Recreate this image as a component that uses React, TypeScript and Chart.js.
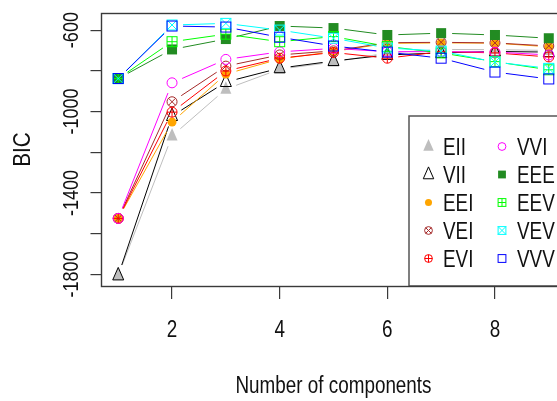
import React, { useEffect, useRef } from 'react';
import { Chart, registerables } from 'chart.js';
Chart.register(...registerables);

// ---- data ----
const components = [1, 2, 3, 4, 5, 6, 7, 8, 9];
const EII = [-1805, -1120, -890, -792, -757, -712, -695, -696, -700];
const VII = [-1805, -1022, -855, -787, -752, -722, -712, -705, -708];
const EEI = [-1525, -1052, -816, -742, -705, -665, -663, -664, -682];
const VEI = [-1525, -952, -777, -722, -702, -662, -660, -663, -678];
const EVI = [-1525, -1003, -801, -738, -710, -738, -706, -712, -732];
const VVI = [-1525, -859, -744, -707, -690, -706, -706, -708, -722];
const EEE = [-838, -695, -644, -580, -590, -624, -615, -624, -640];
const EEV = [-838, -657, -620, -657, -632, -680, -712, -755, -795];
const VEV = [-838, -575, -567, -600, -640, -688, -703, -757, -788];
const VVV = [-838, -580, -585, -635, -678, -708, -738, -806, -840];

const modelNames = ['EII', 'VII', 'EEI', 'VEI', 'EVI', 'VVI', 'EEE', 'EEV', 'VEV', 'VVV'];
const modelValues = [EII, VII, EEI, VEI, EVI, VVI, EEE, EEV, VEV, VVV];
const modelColors = ['#BEBEBE', '#000000', '#FFA500', '#A52A2A', '#FF0000', '#FF00FF', '#228B22', '#00FF00', '#00FFFF', '#0000FF'];
const modelSymbols = ['triFill', 'triOpen', 'circleFill', 'circleX', 'circlePlus', 'circle', 'squareFill', 'squarePlus', 'squareX', 'square'];

const xTickValues = [2, 4, 6, 8];
const xTickLabels = ['2', '4', '6', '8'];
const yTickValues = [-1800, -1600, -1400, -1200, -1000, -800, -600];
const yLabelValues = [-1800, -1400, -1000, -600];
const yLabelTexts = ['-1800', '-1400', '-1000', '-600'];
const xTitle = 'Number of components';
const yTitle = 'BIC';

const FONT = '"Liberation Sans", Arial, sans-serif';
const INK = '#111';
const AXIS = '#3a3a3a';

function drawText(ctx: CanvasRenderingContext2D, s: string, x: number, y: number, size: number, align: CanvasTextAlign, rot = 0, sx = 0.82) {
  ctx.save();
  ctx.translate(x, y);
  if (rot) ctx.rotate(rot);
  ctx.scale(sx, 1);
  ctx.font = `${size}px ${FONT}`;
  ctx.fillStyle = INK;
  ctx.textAlign = align;
  ctx.textBaseline = 'alphabetic';
  ctx.fillText(s, 0, 0);
  ctx.restore();
}

function drawSymbol(ctx: CanvasRenderingContext2D, sym: string, x: number, y: number, color: string, s: number) {
  ctx.save();
  ctx.strokeStyle = color;
  ctx.fillStyle = color;
  ctx.lineWidth = 1;
  const r = 5 * s;
  const circ = (rad: number) => { ctx.beginPath(); ctx.arc(x, y, rad, 0, Math.PI * 2); };
  switch (sym) {
    case 'square':
      ctx.strokeRect(x - r, y - r, 2 * r, 2 * r);
      break;
    case 'squareFill':
      ctx.fillRect(x - r, y - r, 2 * r, 2 * r);
      break;
    case 'squarePlus':
      ctx.strokeRect(x - r, y - r, 2 * r, 2 * r);
      ctx.beginPath();
      ctx.moveTo(x - r, y); ctx.lineTo(x + r, y);
      ctx.moveTo(x, y - r); ctx.lineTo(x, y + r);
      ctx.stroke();
      break;
    case 'squareX':
      ctx.strokeRect(x - r, y - r, 2 * r, 2 * r);
      ctx.beginPath();
      ctx.moveTo(x - r, y - r); ctx.lineTo(x + r, y + r);
      ctx.moveTo(x - r, y + r); ctx.lineTo(x + r, y - r);
      ctx.stroke();
      break;
    case 'circle':
      circ(r); ctx.stroke();
      break;
    case 'circleFill':
      circ(r * 0.9); ctx.fill();
      break;
    case 'circlePlus':
      circ(r); ctx.stroke();
      ctx.beginPath();
      ctx.moveTo(x - r, y); ctx.lineTo(x + r, y);
      ctx.moveTo(x, y - r); ctx.lineTo(x, y + r);
      ctx.stroke();
      break;
    case 'circleX': {
      circ(r); ctx.stroke();
      const d = r * 0.707;
      ctx.beginPath();
      ctx.moveTo(x - d, y - d); ctx.lineTo(x + d, y + d);
      ctx.moveTo(x - d, y + d); ctx.lineTo(x + d, y - d);
      ctx.stroke();
      break;
    }
    case 'triFill':
    case 'triOpen': {
      const hw = 5.5 * s, top = 8 * s, bot = 4.5 * s;
      ctx.beginPath();
      ctx.moveTo(x, y - top);
      ctx.lineTo(x + hw, y + bot);
      ctx.lineTo(x - hw, y + bot);
      ctx.closePath();
      if (sym === 'triFill') ctx.fill(); else ctx.stroke();
      break;
    }
  }
  ctx.restore();
}

const GAP = 11;

const rPlotPlugin = {
  id: 'rPlot',
  afterDatasetsDraw(chart: any) {
    const ctx: CanvasRenderingContext2D = chart.ctx;
    chart.data.datasets.forEach((ds: any, i: number) => {
      const meta = chart.getDatasetMeta(i);
      const pts = meta.data.map((p: any) => ({ x: p.x, y: p.y }));
      const color = modelColors[i];
      ctx.save();
      ctx.strokeStyle = color;
      ctx.lineWidth = 1;
      for (let j = 0; j < pts.length - 1; j++) {
        const a = pts[j], b = pts[j + 1];
        const dx = b.x - a.x, dy = b.y - a.y;
        const len = Math.hypot(dx, dy);
        if (len <= 2 * GAP) continue;
        const ux = dx / len, uy = dy / len;
        ctx.beginPath();
        ctx.moveTo(a.x + ux * GAP, a.y + uy * GAP);
        ctx.lineTo(b.x - ux * GAP, b.y - uy * GAP);
        ctx.stroke();
      }
      ctx.restore();
      pts.forEach((p: any) => drawSymbol(ctx, modelSymbols[i], p.x, p.y, color, 1));
    });
  },
  afterDraw(chart: any) {
    const ctx: CanvasRenderingContext2D = chart.ctx;
    const area = chart.chartArea;
    const xs = chart.scales.x;
    const ys = chart.scales.y;

    // legend (bottom right, inside plot)
    const lx = 409, ly = 116;
    ctx.save();
    ctx.fillStyle = '#fff';
    ctx.fillRect(lx, ly, area.right - lx, area.bottom - ly);
    ctx.strokeStyle = '#555';
    ctx.lineWidth = 1.5;
    ctx.strokeRect(lx, ly, area.right - lx + 20, area.bottom - ly);
    ctx.restore();
    const colSym = [428.5, 502];
    const colTxt = [443, 517];
    modelNames.forEach((name, i) => {
      const col = Math.floor(i / 5);
      const row = i % 5;
      const base = 154.5 + row * 28;
      const sym = modelSymbols[i];
      const sc = sym.startsWith('tri') ? 0.95 : 0.78;
      drawSymbol(ctx, sym, colSym[col], base - 8, modelColors[i], sc);
      drawText(ctx, name, colTxt[col], base, 23, 'left');
    });

    // frame
    ctx.save();
    ctx.strokeStyle = AXIS;
    ctx.lineWidth = 1.4;
    ctx.strokeRect(area.left + 0.5, area.top + 0.5, area.right - area.left, area.bottom - area.top);
    ctx.restore();

    // x tick labels
    xTickValues.forEach((v, i) => {
      drawText(ctx, xTickLabels[i], xs.getPixelForValue(v), 336.5, 23, 'center');
    });
    // y tick labels (rotated)
    yLabelValues.forEach((v, i) => {
      drawText(ctx, yLabelTexts[i], 77.5, ys.getPixelForValue(v), 22, 'center', -Math.PI / 2);
    });
    // titles
    drawText(ctx, xTitle, (area.left + area.right) / 2, 393, 23, 'center');
    drawText(ctx, yTitle, 30, (area.top + area.bottom) / 2, 23, 'center', -Math.PI / 2, 0.9);
  },
};

export default function App() {
  const canvasRef = useRef<HTMLCanvasElement>(null);
  useEffect(() => {
    const canvas = canvasRef.current;
    if (!canvas) return;
    const chart = new Chart(canvas, {
      type: 'scatter',
      data: {
        datasets: modelNames.map((name, i) => ({
          label: name,
          data: components.map((k, j) => ({ x: k, y: modelValues[i][j] })),
          pointRadius: 0,
          pointHoverRadius: 0,
          showLine: false,
          borderColor: modelColors[i],
          backgroundColor: modelColors[i],
        })),
      },
      options: {
        animation: false,
        responsive: false,
        events: [],
        layout: { padding: { left: 0, top: 13, right: 14, bottom: 0 } },
        plugins: { legend: { display: false }, tooltip: { enabled: false } },
        scales: {
          x: {
            type: 'linear',
            min: 0.68,
            max: 9.32,
            afterBuildTicks: (scale: any) => { scale.ticks = xTickValues.map((v) => ({ value: v })); },
            afterFit: (scale: any) => { scale.height = 115; },
            ticks: { display: false },
            grid: { drawOnChartArea: false, drawTicks: true, tickLength: 13, color: AXIS, lineWidth: 1.2 },
            border: { display: false },
          },
          y: {
            type: 'linear',
            min: -1857,
            max: -516,
            afterBuildTicks: (scale: any) => { scale.ticks = yTickValues.map((v) => ({ value: v })); },
            afterFit: (scale: any) => { scale.width = 101; },
            ticks: { display: false },
            grid: { drawOnChartArea: false, drawTicks: true, tickLength: 10.5, color: AXIS, lineWidth: 1.2 },
            border: { display: false },
          },
        },
      },
      plugins: [rPlotPlugin],
    });
    return () => chart.destroy();
  }, []);

  return (
    <div style={{ position: 'absolute', left: 0, top: 0, width: 557, height: 401, overflow: 'hidden', background: '#fff' }}>
      <canvas ref={canvasRef} width={580} height={401} style={{ display: 'block', width: 580, height: 401 }} />
    </div>
  );
}
